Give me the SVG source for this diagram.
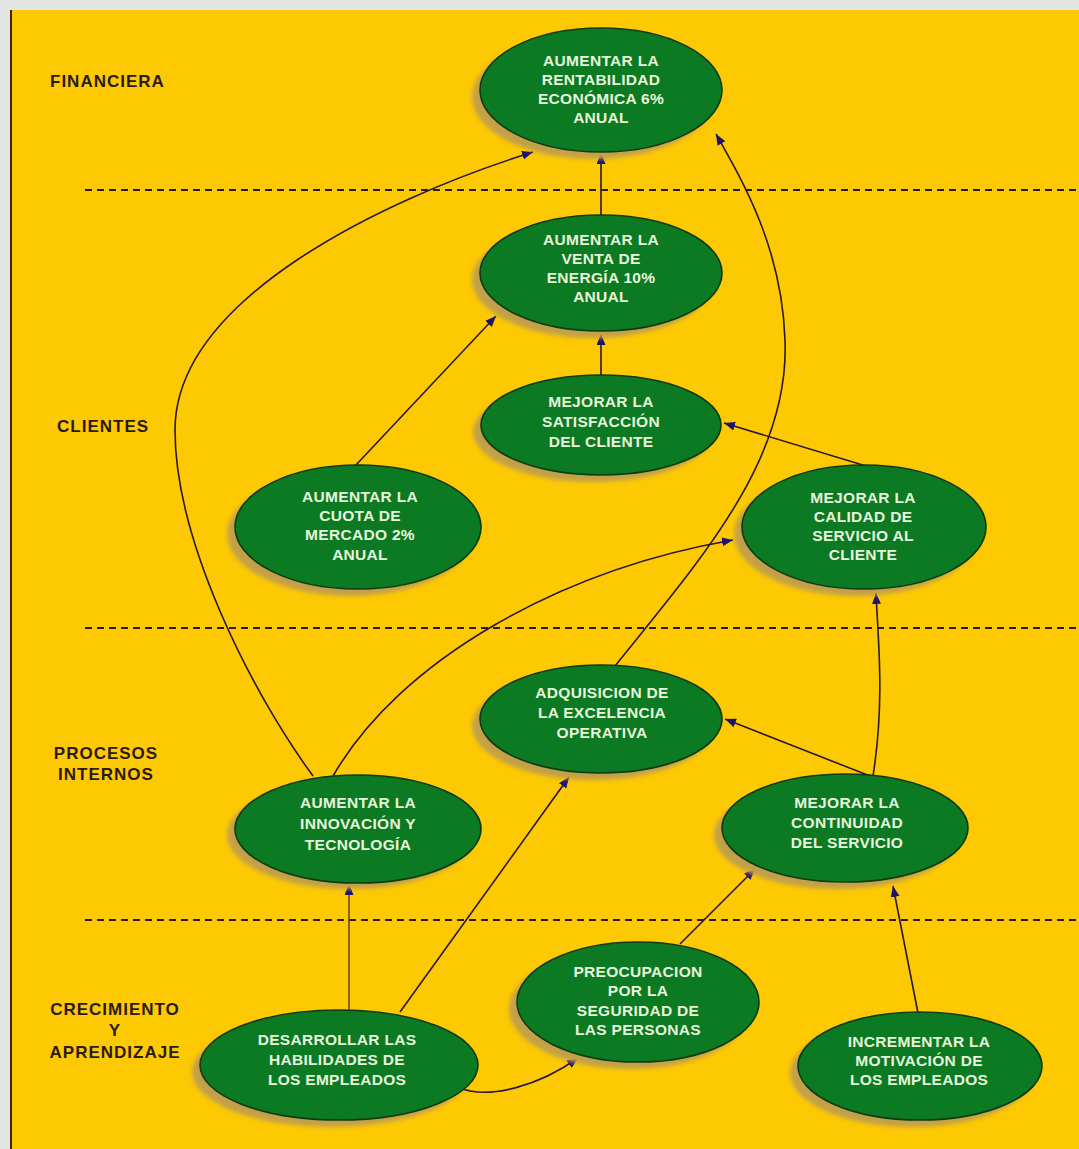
<svg xmlns="http://www.w3.org/2000/svg" width="1079" height="1149" viewBox="0 0 1079 1149">
<style>
.lbl{font-family:"Liberation Sans",Arial,sans-serif;font-weight:bold;font-size:17px;letter-spacing:1px;fill:#2b1a12}
.nt{font-family:"Liberation Sans",Arial,sans-serif;font-weight:bold;font-size:15.5px;letter-spacing:0.3px;fill:#e8f6dc;text-anchor:middle}
.node{fill:#0b7a22;stroke:#0f3a12;stroke-width:1.6}
.sh{fill:#c2a04a;filter:url(#blur)}
.dash{stroke:#2a1a22;stroke-width:2;stroke-dasharray:7 5;fill:none}
.cn{fill:none;stroke:#2b1830;stroke-width:1.6;marker-end:url(#ah)}
</style>
<defs>
<filter id="blur" x="-10%" y="-10%" width="120%" height="120%"><feGaussianBlur stdDeviation="2"/></filter>
<marker id="ah" markerUnits="userSpaceOnUse" markerWidth="12" markerHeight="10" refX="11" refY="4.5" orient="auto"><path d="M0,0 L11,4.5 L0,9 z" fill="#1c1470"/></marker>
</defs>
<rect x="0" y="0" width="1079" height="1149" fill="#e2e6e2"/>
<rect x="12" y="10" width="1067" height="1139" fill="#fdc902"/>
<line x1="11" y1="10" x2="11" y2="1149" stroke="#4a2010" stroke-width="2"/>

<g id="separators">
<line class="dash" x1="85" y1="190" x2="1079" y2="190"/>
<line class="dash" x1="85" y1="628" x2="1079" y2="628"/>
<line class="dash" x1="85" y1="920" x2="1079" y2="920"/>
</g>

<g id="labels">
<text class="lbl" x="50" y="87">FINANCIERA</text>
<text class="lbl" x="57" y="432">CLIENTES</text>
<text class="lbl" x="106" y="759" text-anchor="middle">PROCESOS</text>
<text class="lbl" x="106" y="780" text-anchor="middle">INTERNOS</text>
<text class="lbl" x="115" y="1015" text-anchor="middle">CRECIMIENTO</text>
<text class="lbl" x="115" y="1036" text-anchor="middle">Y</text>
<text class="lbl" x="115" y="1058" text-anchor="middle">APRENDIZAJE</text>
</g>

<g id="connectors">
<path class="cn" d="M313,776 C250,690 175,540 175,430 C175,300 380,200 533,152"/>
<path class="cn" d="M601,215 L601,153"/>
<path class="cn" d="M601,375 L601,334"/>
<path class="cn" d="M355,466 L496,316"/>
<path class="cn" d="M866,466 L724,423"/>
<path class="cn" d="M615,666 C700,560 790,460 785,340 C782,250 745,185 716,134"/>
<path class="cn" d="M333,776 C400,660 560,570 733,540"/>
<path class="cn" d="M873,776 C885,700 878,640 876,593"/>
<path class="cn" d="M870,776 L725,719"/>
<path class="cn" d="M349,1010 L349,884" style="stroke:#6b4a20"/>
<path class="cn" d="M400,1012 L569,777"/>
<path class="cn" d="M460,1088 C490,1100 540,1085 578,1058"/>
<path class="cn" d="M680,944 L755,869"/>
<path class="cn" d="M918,1013 L893,886"/>
</g>

<g id="n1">
<ellipse class="sh" cx="593" cy="97" rx="121" ry="62"/>
<ellipse class="node" cx="601" cy="90" rx="121" ry="62"/>
<text class="nt" x="601" y="66">AUMENTAR LA</text>
<text class="nt" x="601" y="85">RENTABILIDAD</text>
<text class="nt" x="601" y="104">ECONÓMICA 6%</text>
<text class="nt" x="601" y="123">ANUAL</text>
</g>
<g id="n2">
<ellipse class="sh" cx="593" cy="280" rx="121" ry="58"/>
<ellipse class="node" cx="601" cy="273" rx="121" ry="58"/>
<text class="nt" x="601" y="245">AUMENTAR LA</text>
<text class="nt" x="601" y="264">VENTA DE</text>
<text class="nt" x="601" y="283">ENERGÍA 10%</text>
<text class="nt" x="601" y="302">ANUAL</text>
</g>
<g id="n3">
<ellipse class="sh" cx="593" cy="432" rx="120" ry="50"/>
<ellipse class="node" cx="601" cy="425" rx="120" ry="50"/>
<text class="nt" x="601" y="407">MEJORAR LA</text>
<text class="nt" x="601" y="427">SATISFACCIÓN</text>
<text class="nt" x="601" y="447">DEL CLIENTE</text>
</g>
<g id="n4">
<ellipse class="sh" cx="350" cy="534" rx="123" ry="62"/>
<ellipse class="node" cx="358" cy="527" rx="123" ry="62"/>
<text class="nt" x="360" y="502">AUMENTAR LA</text>
<text class="nt" x="360" y="521">CUOTA DE</text>
<text class="nt" x="360" y="540">MERCADO 2%</text>
<text class="nt" x="360" y="560">ANUAL</text>
</g>
<g id="n5">
<ellipse class="sh" cx="856" cy="534" rx="122" ry="62"/>
<ellipse class="node" cx="864" cy="527" rx="122" ry="62"/>
<text class="nt" x="863" y="503">MEJORAR LA</text>
<text class="nt" x="863" y="522">CALIDAD DE</text>
<text class="nt" x="863" y="541">SERVICIO AL</text>
<text class="nt" x="863" y="560">CLIENTE</text>
</g>
<g id="n6">
<ellipse class="sh" cx="593" cy="726" rx="121" ry="54"/>
<ellipse class="node" cx="601" cy="719" rx="121" ry="54"/>
<text class="nt" x="602" y="698">ADQUISICION DE</text>
<text class="nt" x="602" y="718">LA EXCELENCIA</text>
<text class="nt" x="602" y="738">OPERATIVA</text>
</g>
<g id="n7">
<ellipse class="sh" cx="350" cy="835" rx="123" ry="54"/>
<ellipse class="node" cx="358" cy="829" rx="123" ry="54"/>
<text class="nt" x="358" y="808">AUMENTAR LA</text>
<text class="nt" x="358" y="829">INNOVACIÓN Y</text>
<text class="nt" x="358" y="850">TECNOLOGÍA</text>
</g>
<g id="n8">
<ellipse class="sh" cx="837" cy="835" rx="123" ry="54"/>
<ellipse class="node" cx="845" cy="828" rx="123" ry="54"/>
<text class="nt" x="847" y="808">MEJORAR LA</text>
<text class="nt" x="847" y="828">CONTINUIDAD</text>
<text class="nt" x="847" y="848">DEL SERVICIO</text>
</g>
<g id="n9">
<ellipse class="sh" cx="630" cy="1009" rx="121" ry="60"/>
<ellipse class="node" cx="638" cy="1002" rx="121" ry="60"/>
<text class="nt" x="638" y="977">PREOCUPACION</text>
<text class="nt" x="638" y="996">POR LA</text>
<text class="nt" x="638" y="1016">SEGURIDAD DE</text>
<text class="nt" x="638" y="1035">LAS PERSONAS</text>
</g>
<g id="n10">
<ellipse class="sh" cx="331" cy="1072" rx="139" ry="55"/>
<ellipse class="node" cx="339" cy="1065" rx="139" ry="55"/>
<text class="nt" x="337" y="1045">DESARROLLAR LAS</text>
<text class="nt" x="337" y="1065">HABILIDADES DE</text>
<text class="nt" x="337" y="1085">LOS EMPLEADOS</text>
</g>
<g id="n11">
<ellipse class="sh" cx="912" cy="1073" rx="122" ry="54"/>
<ellipse class="node" cx="920" cy="1066" rx="122" ry="54"/>
<text class="nt" x="919" y="1047">INCREMENTAR LA</text>
<text class="nt" x="919" y="1066">MOTIVACIÓN DE</text>
<text class="nt" x="919" y="1085">LOS EMPLEADOS</text>
</g>
</svg>
